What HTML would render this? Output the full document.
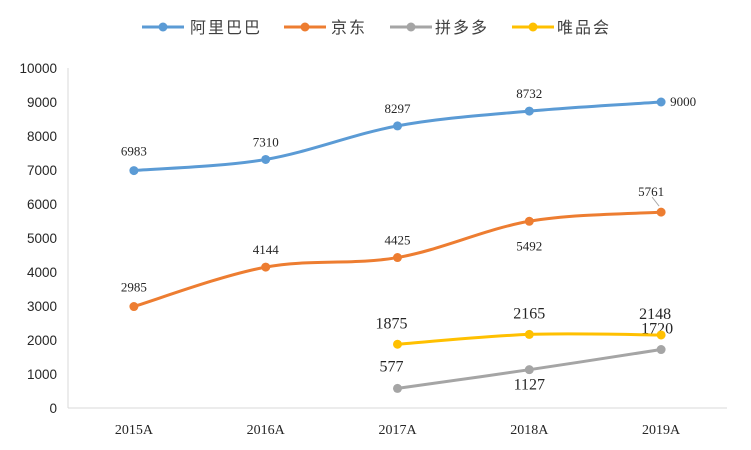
<!DOCTYPE html>
<html><head><meta charset="utf-8"><style>
body{margin:0;background:#fff}
svg{display:block}
</style></head><body>
<svg id="c" width="751" height="450" xmlns="http://www.w3.org/2000/svg"></svg>
<script>
const categories=["2015A","2016A","2017A","2018A","2019A"];
const alibaba=[6983,7310,8297,8732,9000];
const jd=[2985,4144,4425,5492,5761];
const pdd=[null,null,577,1127,1720];
const vip=[null,null,1875,2165,2148];
const yTicks=[0,1000,2000,3000,4000,5000,6000,7000,8000,9000,10000];
const seriesNames=["阿里巴巴","京东","拼多多","唯品会"];
const colors=["#5b9bd5","#ed7d31","#a5a5a5","#ffc000"];

const svg=document.getElementById('c');
const NS="http://www.w3.org/2000/svg";
const x0=68,x1=727,yb=408,yt=68;
const xs=i=>x0+(x1-x0)*(i+0.5)/categories.length;
const ys=v=>yb-(yb-yt)*v/10000;
function mk(t,a,p){const e=document.createElementNS(NS,t);for(const k in a)e.setAttribute(k,a[k]);(p||svg).appendChild(e);return e;}
function txt(s,x,y,o){const e=mk('text',Object.assign({x:x,y:y,'text-anchor':'middle','font-family':'"Liberation Serif",serif','font-size':13,fill:'#262626'},o||{}));e.textContent=s;return e;}

mk('line',{x1:x0,y1:yb,x2:x1,y2:yb,stroke:'#d9d9d9'});
mk('line',{x1:x0,y1:yt,x2:x0,y2:yb,stroke:'#d9d9d9'});
yTicks.forEach(t=>{
  const e=txt(String(t),57,ys(t)+5,{'text-anchor':'end','font-family':'"Liberation Sans",sans-serif','font-size':13.5,fill:'#262626'});
  
  
});
categories.forEach((c,i)=>{
  const e=txt(c,xs(i),434,{'font-family':'"Liberation Serif",serif','font-size':14});
  
  
});

function curve(pts){
  let d=`M${pts[0][0]},${pts[0][1]}`;
  for(let i=0;i<pts.length-1;i++){
    const p0=pts[Math.max(0,i-1)],p1=pts[i],p2=pts[i+1],p3=pts[Math.min(pts.length-1,i+2)];
    const c1=[p1[0]+(p2[0]-p0[0])/6,p1[1]+(p2[1]-p0[1])/6];
    const c2=[p2[0]-(p3[0]-p1[0])/6,p2[1]-(p3[1]-p1[1])/6];
    d+=` C${c1[0]},${c1[1]} ${c2[0]},${c2[1]} ${p2[0]},${p2[1]}`;
  }
  return d;
}
const all=[alibaba,jd,pdd,vip];
const keys=['alibaba','jd','pdd','vip'];
const off=[
 [[0,-19],[0,-17],[0,-17],[0,-17],[22,0]],
 [[0,-19],[0,-17],[0,-17],[0,25],[-10,-20]],
 [null,null,[-6,-21],[0,16],[-4,-20]],
 [null,null,[-6,-20],[0,-20],[-6,-20]]
];
const big=[false,false,true,true];
all.forEach((s,k)=>{
  const pts=[];s.forEach((v,i)=>{if(v!=null)pts.push([xs(i),ys(v)]);});
  const p=mk('path',{d:curve(pts),fill:'none',stroke:colors[k],'stroke-width':3,'stroke-linecap':'round'});
  
  
  s.forEach((v,i)=>{
    if(v==null)return;
    const c=mk('circle',{cx:xs(i),cy:ys(v),r:4.5,fill:colors[k]});
    
    
    const o=off[k][i];
    const t=txt(String(v),xs(i)+o[0],ys(v)+o[1]+4,{'font-size':big[k]?16:13});
    
    
  });
});
mk('line',{x1:xs(4)-9,y1:ys(jd[4])-15,x2:xs(4)-2,y2:ys(jd[4])-6,stroke:'#a6a6a6'});

const leg=[[142,190],[284,331],[390,435],[512,557]];
seriesNames.forEach((n,k)=>{
  const g=mk('g',{});
  
  
  mk('line',{x1:leg[k][0],y1:27,x2:leg[k][0]+42,y2:27,stroke:colors[k],'stroke-width':3},g);
  mk('circle',{cx:leg[k][0]+21,cy:27,r:4.5,fill:colors[k]},g);
  const t=mk('text',{x:leg[k][1],y:33,'font-family':'"Liberation Sans","Noto Sans CJK SC",sans-serif','font-size':16,fill:'#404040','letter-spacing':2},g);
  t.textContent=n;
});
</script>
</body></html>
